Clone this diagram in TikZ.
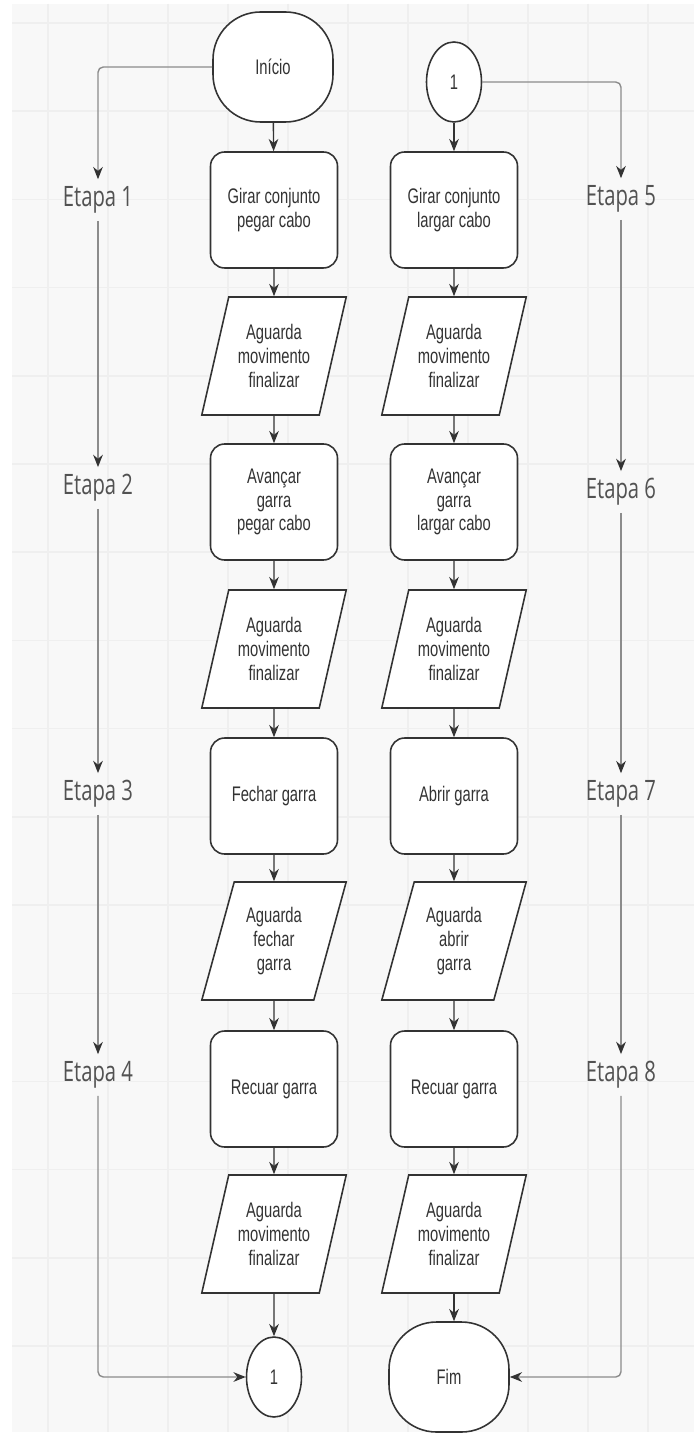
\documentclass[tikz,border=0pt]{standalone}
\usepackage{fontspec}
\setmainfont[FakeStretch=0.7]{Liberation Sans}
\newfontfamily\etapafont[FakeStretch=0.72]{Open Sans}
\usetikzlibrary{arrows.meta, positioning, shapes.geometric}

\definecolor{gridbg}{HTML}{F8F8F8}
\definecolor{gridln}{HTML}{EFEFEF}
\definecolor{ink}{HTML}{333333}
\definecolor{etapagray}{HTML}{8C8C8C}

\tikzset{
  flow/.style={draw=ink, line width=0.9pt, fill=white, text=ink, align=center,
    font=\fontsize{12}{13.6}\selectfont},
  procbox/.style={flow, rectangle, rounded corners=8pt,
    minimum width=2.54cm, minimum height=2.32cm},
  waitbox/.style={flow, trapezium, trapezium left angle=74, trapezium right angle=106,
    trapezium stretches=true, minimum width=2.9cm, minimum height=2.36cm, inner xsep=0pt},
  termbox/.style={flow, rectangle, rounded corners=27pt,
    minimum width=2.4cm, minimum height=2.2cm},
  connbox/.style={flow, ellipse, minimum width=1.1cm, minimum height=1.6cm, inner sep=0pt},
  etapa/.style={font=\etapafont\fontsize{16}{18}\selectfont, text=ink!85, inner sep=4pt},
  arr/.style={-{Stealth[length=7pt, width=5.5pt]}, draw=ink, line width=0.8pt},
  etaparr/.style={-{Stealth[length=7pt, width=5.5pt, color=ink]}, draw=etapagray,
    line width=0.8pt, rounded corners=3pt},
}

\begin{document}
\begin{tikzpicture}[x=0.02cm, y=-0.02cm]
\useasboundingbox (0,0) rectangle (697,1435);
% Background grid
\fill[white] (0,0) rectangle (697,1435);
\fill[gridbg] (12,4) rectangle (694,1432);
\foreach \gx in {0,...,10}
  \draw[gridln, line width=0.8pt] ({48+60*\gx},4) -- ({48+60*\gx},1432);
\foreach \gy in {0,...,15}
  \draw[gridln, line width=0.8pt] (12,{23+88.2*\gy}) -- (694,{23+88.2*\gy});

% Left column: steps 1 to 4
\node[termbox] (ini) at (273,67) {Início};
\node[procbox] (girarA) at (274,210) {Girar conjunto\\pegar cabo};
\node[waitbox] (aguardaA1) at (274,356) {Aguarda\\movimento\\finalizar};
\node[procbox] (avancarA) at (274,502) {Avançar\\garra\\pegar cabo};
\node[waitbox] (aguardaA2) at (274,649) {Aguarda\\movimento\\finalizar};
\node[procbox] (fecharA) at (274,796) {Fechar garra};
\node[waitbox] (aguardaA3) at (274,941) {Aguarda\\fechar\\garra};
\node[procbox] (recuarA) at (274,1089) {Recuar garra};
\node[waitbox] (aguardaA4) at (274,1234) {Aguarda\\movimento\\finalizar};
\node[connbox] (contA) at (274,1377) {1};

% Right column: steps 5 to 8
\node[connbox] (contB) at (454,82) {1};
\node[procbox] (girarB) at (454,210) {Girar conjunto\\largar cabo};
\node[waitbox] (aguardaB1) at (454,356) {Aguarda\\movimento\\finalizar};
\node[procbox] (avancarB) at (454,502) {Avançar\\garra\\largar cabo};
\node[waitbox] (aguardaB2) at (454,649) {Aguarda\\movimento\\finalizar};
\node[procbox] (abrirB) at (454,796) {Abrir garra};
\node[waitbox] (aguardaB3) at (454,941) {Aguarda\\abrir\\garra};
\node[procbox] (recuarB) at (454,1089) {Recuar garra};
\node[waitbox] (aguardaB4) at (454,1234) {Aguarda\\movimento\\finalizar};
\node[termbox] (fim) at (449,1377) {Fim};

% Step labels
\node[etapa] (e1) at (98,200) {Etapa 1};
\node[etapa] (e2) at (98,488) {Etapa 2};
\node[etapa] (e3) at (98,794) {Etapa 3};
\node[etapa] (e4) at (98,1075) {Etapa 4};
\node[etapa] (e5) at (621,199) {Etapa 5};
\node[etapa] (e6) at (621,492) {Etapa 6};
\node[etapa] (e7) at (621,794) {Etapa 7};
\node[etapa] (e8) at (621,1075) {Etapa 8};

% Flow
\draw[arr] (ini) -- (girarA);
\draw[arr] (girarA) -- (aguardaA1);
\draw[arr] (aguardaA1) -- (avancarA);
\draw[arr] (avancarA) -- (aguardaA2);
\draw[arr] (aguardaA2) -- (fecharA);
\draw[arr] (fecharA) -- (aguardaA3);
\draw[arr] (aguardaA3) -- (recuarA);
\draw[arr] (recuarA) -- (aguardaA4);
\draw[arr] (aguardaA4) -- (contA);
\draw[arr] (contB) -- (girarB);
\draw[arr] (girarB) -- (aguardaB1);
\draw[arr] (aguardaB1) -- (avancarB);
\draw[arr] (avancarB) -- (aguardaB2);
\draw[arr] (aguardaB2) -- (abrirB);
\draw[arr] (abrirB) -- (aguardaB3);
\draw[arr] (aguardaB3) -- (recuarB);
\draw[arr] (recuarB) -- (aguardaB4);
\draw[arr] (aguardaB4.south) -- (aguardaB4.south |- fim.north);

% Step lines
\draw[etaparr] (ini.west) -| (e1.north);
\draw[etaparr] (e1) -- (e2);
\draw[etaparr] (e2) -- (e3);
\draw[etaparr] (e3) -- (e4);
\draw[etaparr] (e4.south) |- (contA.west);
\draw[etaparr] (contB.east) -| (e5.north);
\draw[etaparr] (e5) -- (e6);
\draw[etaparr] (e6) -- (e7);
\draw[etaparr] (e7) -- (e8);
\draw[etaparr] (e8.south) |- (fim.east);
\end{tikzpicture}
\end{document}
